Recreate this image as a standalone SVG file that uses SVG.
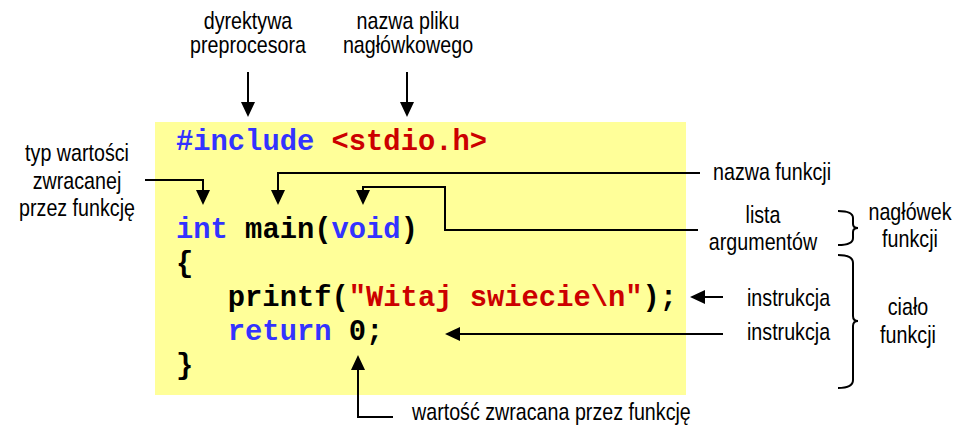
<svg xmlns="http://www.w3.org/2000/svg" width="955" height="428" viewBox="0 0 955 428">
<style>
.lbl{font-family:"Liberation Sans",Arial,sans-serif;font-size:24px;fill:#000}
.mid{text-anchor:middle}
.code{font-family:"Liberation Mono","Courier New",monospace;font-weight:bold;font-size:28.8px;fill:#000}
.kw{fill:#3333FF}
.str{fill:#CC0000}
.conn{fill:none;stroke:#000;stroke-width:2}
</style>
<defs>
<marker id="ah" markerUnits="userSpaceOnUse" markerWidth="16" markerHeight="14" refX="4" refY="7" orient="auto">
<path d="M0,0 L15,7 L0,14 z" fill="#000"/>
</marker>
</defs>
<rect width="955" height="428" fill="#fff"/>
<g id="code">
<rect x="155" y="122" width="531" height="273" fill="#FFFF99"/>
<text class="code" x="176" y="150"><tspan class="kw">#include</tspan> <tspan class="str">&lt;stdio.h&gt;</tspan></text>
<text class="code" x="176" y="238"><tspan class="kw">int</tspan> main(<tspan class="kw">void</tspan>)</text>
<text class="code" x="176" y="272">{</text>
<text class="code" x="227.8" y="306">printf(<tspan class="str">"Witaj swiecie\n"</tspan>);</text>
<text class="code" x="227.8" y="340"><tspan class="kw">return</tspan> 0;</text>
<text class="code" x="176" y="374">}</text>
</g>
<g id="lbl-dyrektywa">
<text class="lbl mid" transform="translate(248,0) scale(0.82,1)" x="0" y="29">dyrektywa</text>
<text class="lbl mid" transform="translate(248,0) scale(0.82,1)" x="0" y="53">preprocesora</text>
</g>
<g id="lbl-plik">
<text class="lbl mid" transform="translate(408,0) scale(0.82,1)" x="0" y="29">nazwa pliku</text>
<text class="lbl mid" transform="translate(408,0) scale(0.82,1)" x="0" y="53">nagłówkowego</text>
</g>
<g id="lbl-typ">
<text class="lbl mid" transform="translate(77,0) scale(0.82,1)" x="0" y="161">typ wartości</text>
<text class="lbl mid" transform="translate(77,0) scale(0.82,1)" x="0" y="189">zwracanej</text>
<text class="lbl mid" transform="translate(77,0) scale(0.82,1)" x="0" y="216">przez funkcję</text>
</g>
<g id="lbl-nazwa-funkcji">
<text class="lbl" transform="translate(713,0) scale(0.82,1)" x="0" y="180">nazwa funkcji</text>
</g>
<g id="lbl-lista">
<text class="lbl mid" transform="translate(763,0) scale(0.82,1)" x="0" y="223">lista</text>
<text class="lbl mid" transform="translate(763,0) scale(0.82,1)" x="0" y="250">argumentów</text>
</g>
<g id="lbl-naglowek">
<text class="lbl mid" transform="translate(910,0) scale(0.82,1)" x="0" y="220">nagłówek</text>
<text class="lbl mid" transform="translate(910,0) scale(0.82,1)" x="0" y="247">funkcji</text>
</g>
<g id="lbl-instr1">
<text class="lbl" transform="translate(747,0) scale(0.82,1)" x="0" y="306">instrukcja</text>
</g>
<g id="lbl-instr2">
<text class="lbl" transform="translate(747,0) scale(0.82,1)" x="0" y="340">instrukcja</text>
</g>
<g id="lbl-cialo">
<text class="lbl mid" transform="translate(908,0) scale(0.82,1)" x="0" y="315">ciało</text>
<text class="lbl mid" transform="translate(908,0) scale(0.82,1)" x="0" y="343">funkcji</text>
</g>
<g id="lbl-wartosc">
<text class="lbl" transform="translate(412,0) scale(0.82,1)" x="0" y="420">wartość zwracana przez funkcję</text>
</g>
<g id="connectors">
<path class="conn" d="M248,72 V106" marker-end="url(#ah)"/>
<path class="conn" d="M407,72 V106" marker-end="url(#ah)"/>
<path class="conn" d="M145,180 H203 V194" marker-end="url(#ah)"/>
<path class="conn" d="M700,173 H278 V194" marker-end="url(#ah)"/>
<path class="conn" d="M698,230 H445 V187 H363 V194" marker-end="url(#ah)"/>
<path class="conn" d="M723,297 H701" marker-end="url(#ah)"/>
<path class="conn" d="M723,334 H456" marker-end="url(#ah)"/>
<path class="conn" d="M393,417 H358 V366" marker-end="url(#ah)"/>
<path class="conn" d="M838,211 Q853,211 853,218 V224 Q853,228 858,228 Q853,228 853,232 V238 Q853,245 838,245"/>
<path class="conn" d="M838,255 Q853,255 853,263 V316 Q853,321 858,321 Q853,321 853,326 V380 Q853,388 838,388"/>
</g>
</svg>
